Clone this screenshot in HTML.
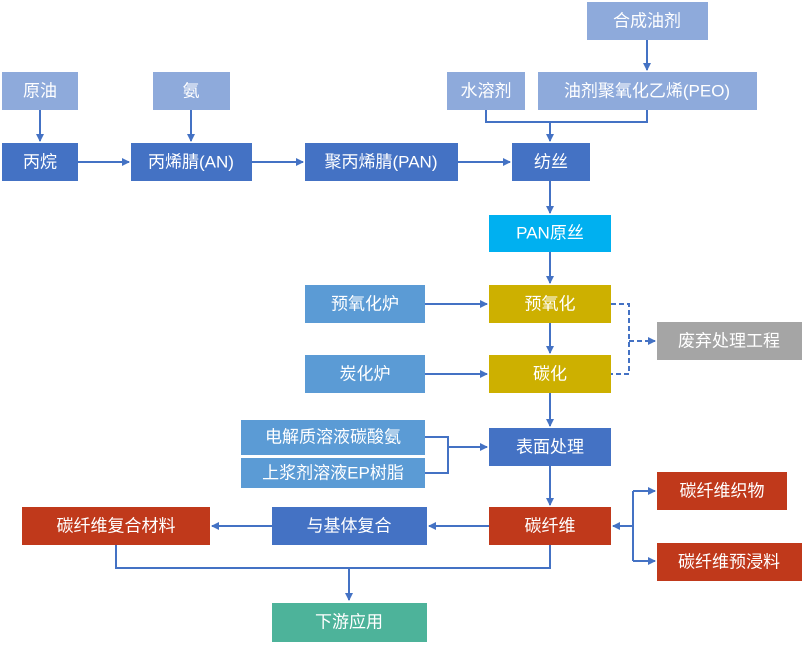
<!DOCTYPE html>
<html><head><meta charset="utf-8"><style>
body{margin:0;background:#fff}
svg text{font-family:"Liberation Sans","Noto Sans CJK SC",sans-serif;font-size:17px;fill:#fff;text-anchor:middle;dominant-baseline:central}
</style></head><body>
<svg width="805" height="647" viewBox="0 0 805 647" xmlns="http://www.w3.org/2000/svg">
<defs><marker id="a" markerWidth="8" markerHeight="8" refX="7" refY="4" orient="auto" markerUnits="userSpaceOnUse"><path d="M0,0L8,4L0,8z" fill="#4472c4"/></marker></defs>
<g stroke="#4472c4" stroke-width="2" fill="none">
<path d="M40,110V141" marker-end="url(#a)"/>
<path d="M191,110V141" marker-end="url(#a)"/>
<path d="M647,40V70" marker-end="url(#a)"/>
<path d="M486,110V122H647V110M550,122V141" marker-end="url(#a)"/>
<path d="M78,162H129" marker-end="url(#a)"/>
<path d="M252,162H303" marker-end="url(#a)"/>
<path d="M458,162H510" marker-end="url(#a)"/>
<path d="M550,181V213" marker-end="url(#a)"/>
<path d="M550,252V283" marker-end="url(#a)"/>
<path d="M425,304H487" marker-end="url(#a)"/>
<path d="M550,323V353" marker-end="url(#a)"/>
<path d="M425,374H487" marker-end="url(#a)"/>
<path d="M550,393V426" marker-end="url(#a)"/>
<path d="M425,437H448V473H425M448,447H487" marker-end="url(#a)"/>
<path d="M550,466V505" marker-end="url(#a)"/>
<path d="M489,526H429" marker-end="url(#a)"/>
<path d="M272,526H212" marker-end="url(#a)"/>
<path d="M633,491V561M633,491H655" marker-end="url(#a)"/>
<path d="M633,561H655" marker-end="url(#a)"/>
<path d="M633,526H613" marker-end="url(#a)"/>
<path d="M116,545V568H550V545M349,568V600" marker-end="url(#a)"/>
<path d="M611,304H629V374H611M629,341H655" stroke-dasharray="5,3" marker-end="url(#a)"/>
</g>
<g>
<rect x="2" y="72" width="76" height="38" fill="#8eaadb"/><text x="40" y="91">原油</text>
<rect x="153" y="72" width="77" height="38" fill="#8eaadb"/><text x="191" y="91">氨</text>
<rect x="447" y="72" width="78" height="38" fill="#8eaadb"/><text x="486" y="91">水溶剂</text>
<rect x="538" y="72" width="219" height="38" fill="#8eaadb"/><text x="647" y="91">油剂聚氧化乙烯(PEO)</text>
<rect x="587" y="2" width="121" height="38" fill="#8eaadb"/><text x="647" y="21">合成油剂</text>
<rect x="2" y="143" width="76" height="38" fill="#4472c4"/><text x="40" y="162">丙烷</text>
<rect x="131" y="143" width="121" height="38" fill="#4472c4"/><text x="191" y="162">丙烯腈(AN)</text>
<rect x="305" y="143" width="153" height="38" fill="#4472c4"/><text x="381" y="162">聚丙烯腈(PAN)</text>
<rect x="512" y="143" width="78" height="38" fill="#4472c4"/><text x="551" y="162">纺丝</text>
<rect x="489" y="215" width="122" height="37" fill="#00b0f0"/><text x="550" y="233">PAN原丝</text>
<rect x="489" y="285" width="122" height="38" fill="#cdb000"/><text x="550" y="304">预氧化</text>
<rect x="305" y="285" width="120" height="38" fill="#5b9bd5"/><text x="365" y="304">预氧化炉</text>
<rect x="489" y="355" width="122" height="38" fill="#cdb000"/><text x="550" y="374">碳化</text>
<rect x="305" y="355" width="120" height="38" fill="#5b9bd5"/><text x="365" y="374">炭化炉</text>
<rect x="657" y="322" width="145" height="38" fill="#a5a5a5"/><text x="729" y="341">废弃处理工程</text>
<rect x="241" y="420" width="184" height="35" fill="#5b9bd5"/><text x="333" y="437">电解质溶液碳酸氨</text>
<rect x="241" y="458" width="184" height="30" fill="#5b9bd5"/><text x="333" y="473">上浆剂溶液EP树脂</text>
<rect x="489" y="428" width="122" height="38" fill="#4472c4"/><text x="550" y="447">表面处理</text>
<rect x="489" y="507" width="122" height="38" fill="#c0391b"/><text x="550" y="526">碳纤维</text>
<rect x="272" y="507" width="155" height="38" fill="#4472c4"/><text x="349" y="526">与基体复合</text>
<rect x="22" y="507" width="188" height="38" fill="#c0391b"/><text x="116" y="526">碳纤维复合材料</text>
<rect x="657" y="472" width="130" height="38" fill="#c0391b"/><text x="722" y="491">碳纤维织物</text>
<rect x="657" y="543" width="145" height="38" fill="#c0391b"/><text x="729" y="562">碳纤维预浸料</text>
<rect x="272" y="603" width="155" height="39" fill="#4db39a"/><text x="349" y="622">下游应用</text>
</g>
</svg>
</body></html>
